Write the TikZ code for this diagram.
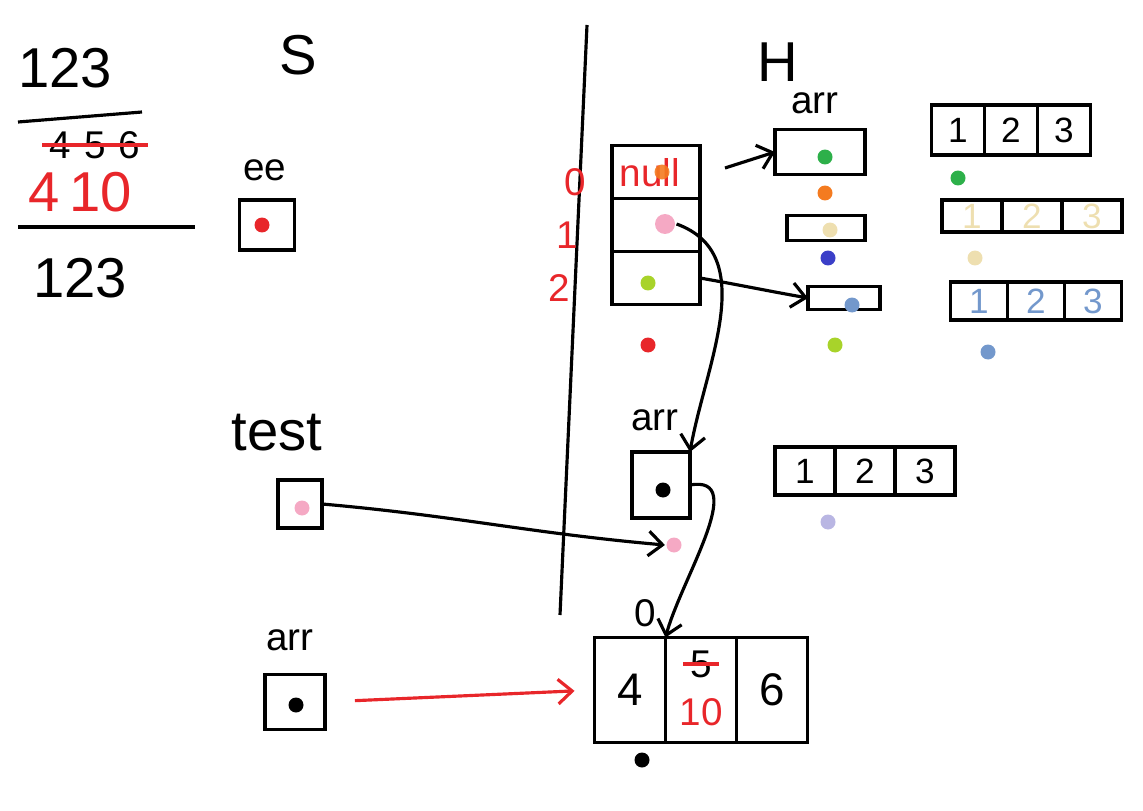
\documentclass[tikz,border=0pt]{standalone}
\usepackage{fontspec}
\setmainfont{Liberation Sans}
\usetikzlibrary{arrows.meta,positioning}
\definecolor{penred}{HTML}{E8262A}
\definecolor{penorange}{HTML}{F47B20}
\definecolor{penpink}{HTML}{F5A9C4}
\definecolor{pengreen}{HTML}{2DB04A}
\definecolor{penlime}{HTML}{A8D32A}
\definecolor{pencream}{HTML}{EEDFB0}
\definecolor{penblue}{HTML}{3B3FC8}
\definecolor{pensteel}{HTML}{7398CC}
\definecolor{penlav}{HTML}{B9B6E3}
\tikzset{
  big/.style={font=\fontsize{32}{34}\selectfont},
  mid/.style={font=\fontsize{22}{24}\selectfont},
  cell/.style={draw,line width=1.8pt,outer sep=0pt,inner sep=0pt,font=\fontsize{20}{22}\selectfont},
  dot/.style={circle,fill=#1,inner sep=0pt,minimum size=0.3cm},
}
\begin{document}
\begin{tikzpicture}[x=0.02cm,y=-0.02cm,line width=1.8pt,>={Straight Barb[length=8pt,width=14pt]}]
\useasboundingbox (0,0) rectangle (1143,811);
\node[big] (top) at (65,68) {123};
\draw (18,122)--(142,112);
\node[mid] (mid) at (95,145) {4\,\,5\,\,6};
\draw[penred] (mid.west)--(mid.east);
\node[big,text=penred] (midr) at (80,192) {4\,10};
\draw (18,227)--(195,227);
\node[big] (bot) at (80,278) {123};
\node[big] (S) at (298,55) {S};
\node[mid] (ee) at (265,170) {ee};
\node[cell,minimum width=1.1cm,minimum height=1cm] (eebox) at (267,225) {};
\node[dot=penred] at (262,225) {};
\draw (587,25)--(560,615);
\node[big] (H) at (778,62) {H};
\node[mid] (harr) at (815,103) {arr};
\foreach \i/\y in {0/172,1/225,2/278}{
  \node[cell,minimum width=1.76cm,minimum height=1.06cm] (s\i) at (656,\y) {};
  \node[mid,text=penred] (idx\i) at (575-8*\i,\y+10) {\i};
}
\node[mid,text=penred] (nul) at (650,173) {null};
\node[dot=penorange,opacity=.9] (d0) at (662,172) {};
\node[dot=penpink,minimum size=0.4cm] (d1) at (665,224) {};
\node[dot=penlime] (d2) at (648,283) {};
\node[dot=penred] at (648,345) {};
\node[cell,minimum width=1.8cm,minimum height=0.9cm] (p0) at (820,152) {};
\node[cell,minimum width=1.56cm,minimum height=0.5cm] (p1) at (826,228) {};
\node[cell,minimum width=1.44cm,minimum height=0.46cm] (p2) at (844,298) {};
\node[dot=pengreen] at (825,157) {};
\node[dot=penorange] at (825,193) {};
\node[dot=pencream] at (830,230) {};
\node[dot=penblue] at (828,258) {};
\node[dot=pensteel] at (852,305) {};
\node[dot=penlime] at (835,345) {};
\foreach \nm/\cx/\cy/\w/\h/\col in {ga/1011/130/53/50/black,cr/1032/216/60/32/pencream,st/1036/301/57/38/pensteel,lv/865/471/60/48/black}{
  \node[cell,text=\col,minimum width=\w*0.02cm,minimum height=\h*0.02cm] (\nm2) at (\cx,\cy) {2};
  \node[cell,text=\col,minimum width=\w*0.02cm,minimum height=\h*0.02cm,left=0pt of \nm2] (\nm1) {1};
  \node[cell,text=\col,minimum width=\w*0.02cm,minimum height=\h*0.02cm,right=0pt of \nm2] (\nm3) {3};
}
\node[dot=pengreen] at (958,178) {};
\node[dot=pencream] at (975,258) {};
\node[dot=pensteel] at (988,352) {};
\node[dot=penlav] at (828,522) {};
\node[mid] (marr) at (655,420) {arr};
\node[cell,minimum width=1.16cm,minimum height=1.32cm] (mbox) at (661,485) {};
\node[dot=black] at (663,490) {};
\node[dot=penpink] (mpink) at (674,545) {};
\node[big] (test) at (277,433) {test};
\node[cell,minimum width=0.88cm,minimum height=0.96cm] (tbox) at (300,504) {};
\node[dot=penpink] at (302,508) {};
\node[mid] (addr) at (645,613) {0};
\node[mid] (barr) at (290,640) {arr};
\node[cell,minimum width=1.2cm,minimum height=1.1cm] (abox) at (295,702) {};
\node[dot=black] at (296,705) {};
\node[cell,minimum width=1.42cm,minimum height=2.1cm,font=\fontsize{26}{28}\selectfont] (big2) at (701,690) {};
\node[cell,minimum width=1.42cm,minimum height=2.1cm,font=\fontsize{26}{28}\selectfont,left=0pt of big2] (big1) {4};
\node[cell,minimum width=1.42cm,minimum height=2.1cm,font=\fontsize{26}{28}\selectfont,right=0pt of big2] (big3) {6};
\node[mid] (five) at (701,664) {5};
\draw[penred] (five.west)--(five.east);
\node[mid,text=penred] (ten) at (701,712) {10};
\node[dot=black] at (642,760) {};
\draw[->] (s0.east) ++(25,-4) -- (p0.west);
\draw[->] (s2.east) to[out=-10,in=170] (p2.west);
\draw[->] (d1.east) to[out=-20,in=80] (mbox.north east);
\draw[->] (mbox.east) to[out=10,in=75] (big2.north west);
\draw[->] (tbox.east) to[out=-5,in=175] (mpink.west);
\draw[->,penred,shorten <=0.6cm,shorten >=0.4cm] (abox.east) -- (big1.west);
\end{tikzpicture}
\end{document}
